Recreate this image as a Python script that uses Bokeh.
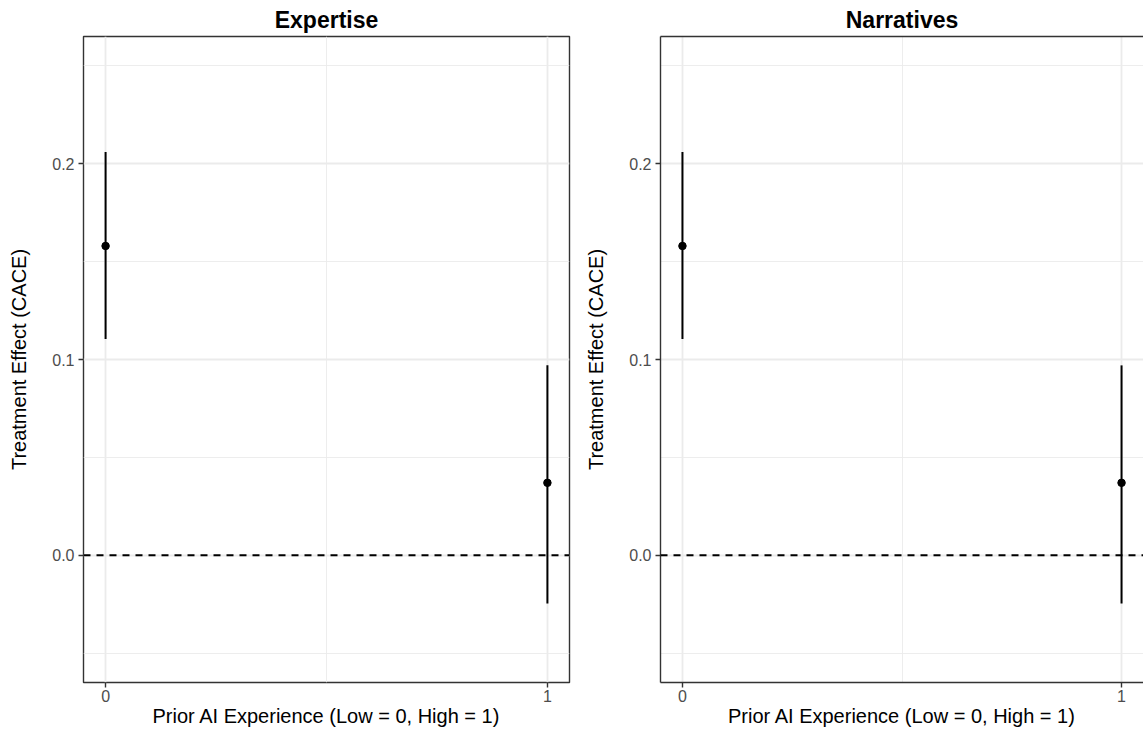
from bokeh.plotting import figure
from bokeh.layouts import row
from bokeh.models import (Range1d, FixedTicker, Span, ColumnDataSource,
                          PrintfTickFormatter, LinearAxis)
from bokeh.embed import file_html
from bokeh.resources import INLINE

# ---- data ----
panels = ["Expertise", "Narratives"]
experience = [0, 1]
estimate_expertise = [0.158, 0.037]
low_expertise = [0.1105, -0.0246]
high_expertise = [0.206, 0.097]
estimate_narratives = [0.158, 0.037]
low_narratives = [0.1105, -0.0246]
high_narratives = [0.206, 0.097]
y_ticks = [0.0, 0.1, 0.2]
y_minor = [-0.05, 0.05, 0.15, 0.25]
x_ticks = [0, 1]
x_minor = [0.5]
reference_line = 0.0
x_label = "Prior AI Experience (Low = 0, High = 1)"
y_label = "Treatment Effect (CACE)"

FONT = "Liberation Sans"
H = 729
BORDER = "#333333"


def make_panel(title, est, lo, hi, width, mb_left, mb_right, open_right=False):
    p = figure(width=width, height=H,
               x_range=Range1d(-0.05, 1.05), y_range=Range1d(-0.065, 0.265),
               output_backend="svg", toolbar_location=None,
               min_border_left=mb_left, min_border_right=mb_right,
               min_border_top=0, min_border_bottom=0)
    p.background_fill_color = "white"
    p.border_fill_color = "white"

    p.title.text = title
    p.title.align = "center"
    p.title.text_font = FONT
    p.title.text_font_size = "23px"
    p.title.text_font_style = "bold"
    p.title.text_color = "black"
    p.title.standoff = 8
    p.title.offset = 0

    p.xaxis.ticker = FixedTicker(ticks=x_ticks, minor_ticks=x_minor)
    p.yaxis.ticker = FixedTicker(ticks=y_ticks, minor_ticks=y_minor)
    p.yaxis.formatter = PrintfTickFormatter(format="%.1f")

    for ax in (p.xaxis, p.yaxis):
        ax.axis_line_color = None
        ax.major_tick_line_color = BORDER
        ax.major_tick_line_width = 1.4
        ax.major_tick_out = 5
        ax.major_tick_in = 0
        ax.minor_tick_line_color = None
        ax.major_label_text_font = FONT
        ax.major_label_text_font_size = "16px"
        ax.major_label_text_color = "#4D4D4D"
        ax.axis_label_text_font = FONT
        ax.axis_label_text_font_size = "20px"
        ax.axis_label_text_font_style = "normal"
        ax.axis_label_text_color = "black"
    p.xaxis.axis_label = x_label
    p.yaxis.axis_label = y_label
    p.xaxis.major_label_standoff = 2
    p.xaxis.axis_label_standoff = 0
    p.yaxis.major_label_standoff = 4
    p.yaxis.axis_label_standoff = 19

    if open_right:
        # panel is cut at the right edge: draw only left, bottom and top borders
        p.outline_line_color = None
        for ax in (p.xaxis, p.yaxis):
            ax.axis_line_color = BORDER
            ax.axis_line_width = 1.4
        top = LinearAxis(ticker=FixedTicker(ticks=[]), axis_line_color=BORDER,
                         axis_line_width=1.4, major_tick_line_color=None,
                         minor_tick_line_color=None, major_tick_out=0,
                         major_label_standoff=0, major_label_text_font_size="0px")
        p.add_layout(top, "above")
    else:
        p.outline_line_color = BORDER
        p.outline_line_width = 1.4

    for g in (p.xgrid, p.ygrid):
        g.grid_line_color = "#EBEBEB"
        g.grid_line_width = 1.8
        g.minor_grid_line_color = "#EBEBEB"
        g.minor_grid_line_width = 0.9

    p.add_layout(Span(location=reference_line, dimension="width",
                      line_color="black", line_width=1.8, line_dash="7 6"))

    src = ColumnDataSource(dict(x=experience, est=est, lo=lo, hi=hi))
    p.segment(x0="x", y0="lo", x1="x", y1="hi", source=src,
              line_color="black", line_width=2)
    p.scatter(x="x", y="est", source=src, size=7.5,
              fill_color="black", line_color="black")
    return p


p1 = make_panel(panels[0], estimate_expertise, low_expertise, high_expertise,
                width=580, mb_left=83, mb_right=11)
p2 = make_panel(panels[1], estimate_narratives, low_narratives, high_narratives,
                width=563, mb_left=80, mb_right=0, open_right=True)

layout = row(p1, p2)
open("out.html", "w").write(file_html(layout, INLINE))
